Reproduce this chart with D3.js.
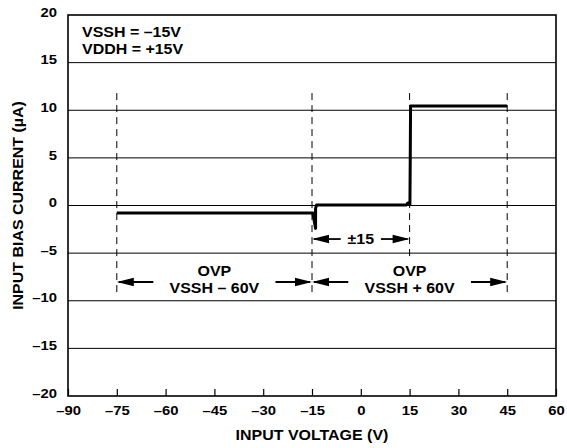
<!DOCTYPE html>
<html><head><meta charset="utf-8">
<script src="https://cdn.jsdelivr.net/npm/d3@7"></script>
<style>
body{margin:0;background:#fff;}
text{font-family:"Liberation Sans",Arial,Helvetica,sans-serif;font-weight:bold;fill:#000;}
</style></head>
<body><svg id="c" width="567" height="448"></svg>
<script>
// ---- data ----
const xTicks = [-90,-75,-60,-45,-30,-15,0,15,30,45,60];
const yTicks = [-20,-15,-10,-5,0,5,10,15,20];
const curveV = [-75,-14.7,-14.7,-13.9,-13.9,-13.6,14.0,14.4,14.8,15.1,15.2,15.3,45];
const curveI = [-0.8,-0.8,-0.9,-2.4,-0.3,0.05,0.05,0.25,0.3,0.1,5,10.45,10.45];
const dashedV = [-75,-15,15,45];
const dashTop = [11.8,11.8,11.8,11.8];
const dashBottom = [-9.6,-9.6,-5.7,-9.6];
const legendLines = ["VSSH = \u201315V","VDDH = +15V"];
const spans = [
  {from:-15,to:15,level:-3.52,lines:["\u00b115"]},
  {from:-75,to:-15,level:-8.03,lines:["OVP","VSSH \u2013 60V"]},
  {from:-15,to:45,level:-8.03,lines:["OVP","VSSH + 60V"]}
];
const fmt = v => v < 0 ? "\u2013" + Math.abs(v) : String(v);

// ---- chart ----
const svg = d3.select("#c");
const L=68,R=556,T=15,B=396;
const STRETCH = 1.14;
const x = d3.scaleLinear([-90,60],[L,R]);
const y = d3.scaleLinear([-20,20],[B,T]);
const stretch = sel => sel.each(function(){
  const n=this.getComputedTextLength();
  d3.select(this).attr("textLength",n*STRETCH).attr("lengthAdjust","spacingAndGlyphs");
});

// gridlines
svg.append("g").selectAll("line").data(yTicks.filter(v=>v>-20&&v<20)).join("line")
  .attr("x1",L).attr("x2",R).attr("y1",d=>y(d)).attr("y2",d=>y(d))
  .attr("stroke","#000").attr("stroke-width",1);

// x axis ticks (inward)
svg.append("g").attr("transform",`translate(0,${B})`)
  .call(d3.axisBottom(x).tickValues(xTicks).tickSize(-7).tickFormat(fmt).tickPadding(10))
  .call(g=>{g.select(".domain").remove();
    g.selectAll("line").attr("stroke","#000").attr("stroke-width",1.2);
    g.selectAll("text").attr("font-size",13).attr("font-family",null).call(stretch);});
// y axis labels
svg.append("g").attr("transform",`translate(${L},-3)`)
  .call(d3.axisLeft(y).tickValues(yTicks).tickSize(0).tickFormat(fmt).tickPadding(11))
  .call(g=>{g.select(".domain").remove();
    g.selectAll("text").attr("font-size",13).attr("font-family",null).call(stretch);});

// frame
svg.append("rect").attr("x",L).attr("y",T).attr("width",R-L).attr("height",B-T)
  .attr("fill","none").attr("stroke","#000").attr("stroke-width",1.6);

// dashed verticals
svg.append("g").selectAll("line").data(dashedV).join("line")
  .attr("x1",d=>x(d)).attr("x2",d=>x(d))
  .attr("y1",(d,i)=>y(dashTop[i])).attr("y2",(d,i)=>y(dashBottom[i]))
  .attr("stroke","#000").attr("stroke-width",1).attr("stroke-dasharray","7,5");

// curve
const pts = curveV.map((v,i)=>[v,curveI[i]]);
svg.append("path").datum(pts)
  .attr("d",d3.line().x(d=>x(d[0])).y(d=>y(d[1])))
  .attr("fill","none").attr("stroke","#000").attr("stroke-width",3).attr("stroke-linejoin","round");

// legend
svg.append("g").selectAll("text").data(legendLines).join("text")
  .attr("x",82).attr("y",(d,i)=>37+i*16.5).attr("font-size",14).text(d=>d).call(stretch);

// span annotations
const head = (x0,yy,dir)=>{ // dir: -1 points left, +1 points right; x0 = tip
  const l=17,h=4.2;
  return `M${x0},${yy}L${x0-dir*l},${yy-h}L${x0-dir*l},${yy+h}Z`;
};
spans.forEach(s=>{
  const g = svg.append("g");
  const x0=x(s.from), x1=x(s.to), cx=(x0+x1)/2, yy=y(s.level);
  const n=s.lines.length;
  let w=0;
  s.lines.forEach((ln,i)=>{
    const t=g.append("text").attr("text-anchor","middle").attr("font-size",14)
      .attr("x",cx).attr("y", n===1 ? yy+5 : yy+11-(n-1-i)*16.5).text(ln);
    t.call(stretch);
    if(i===n-1) w=t.node().getComputedTextLength()*STRETCH;
  });
  const gap = n===1 ? 5 : 10;
  g.append("line").attr("x1",x0+2).attr("x2",cx-w/2-gap).attr("y1",yy).attr("y2",yy)
    .attr("stroke","#000").attr("stroke-width",1.8);
  g.append("line").attr("x1",cx+w/2+gap).attr("x2",x1-2).attr("y1",yy).attr("y2",yy)
    .attr("stroke","#000").attr("stroke-width",1.8);
  g.append("path").attr("d",head(x0,yy,-1)).attr("fill","#000");
  g.append("path").attr("d",head(x1,yy,1)).attr("fill","#000");
});

// axis titles
svg.append("text").attr("x",(L+R)/2).attr("y",440).attr("text-anchor","middle")
  .attr("font-size",14).text("INPUT VOLTAGE (V)").call(stretch);
svg.append("text").attr("transform",`translate(23,${(T+B)/2}) rotate(-90)`)
  .attr("text-anchor","middle").attr("font-size",14).text("INPUT BIAS CURRENT (\u00b5A)").call(stretch);
</script></body></html>
